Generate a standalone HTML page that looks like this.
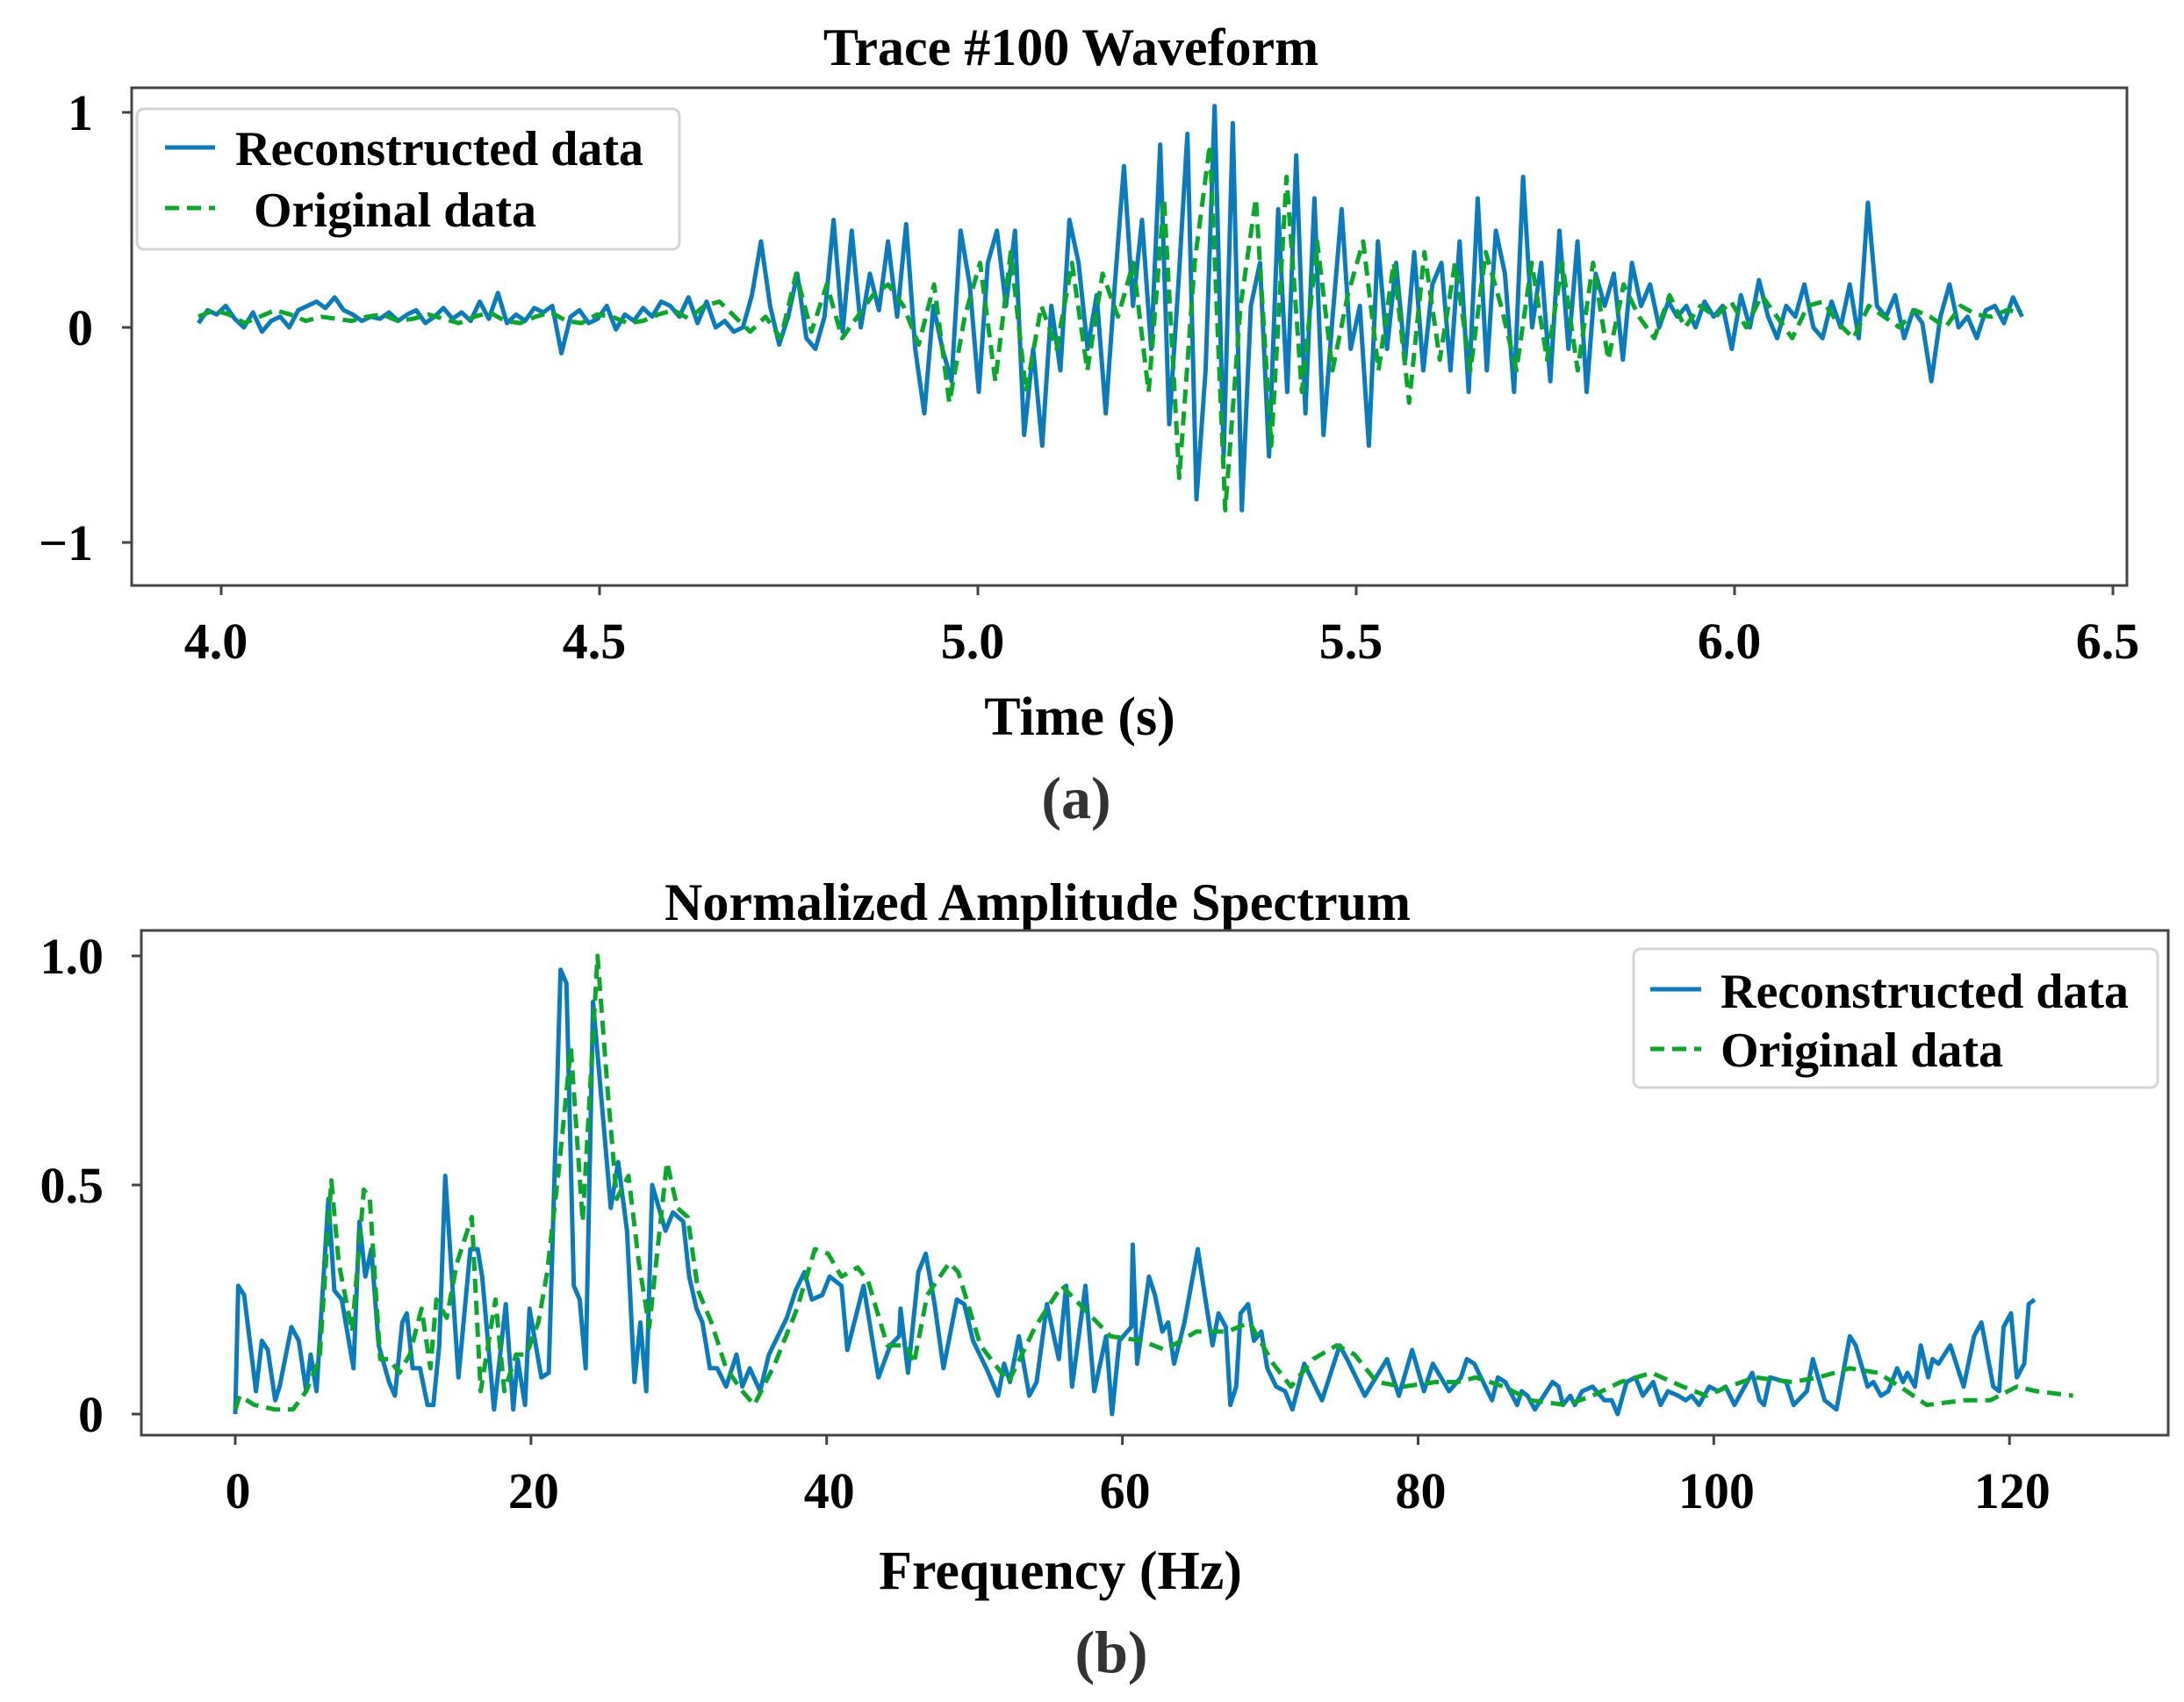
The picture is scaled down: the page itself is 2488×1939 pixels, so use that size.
<!DOCTYPE html>
<html><head><meta charset="utf-8">
<style>
html,body{margin:0;padding:0;background:#fff;}
svg{display:block;font-family:"Liberation Serif",serif;font-weight:bold;}
</style></head>
<body>
<svg id="fig" width="2488" height="1939" viewBox="0 0 2488 1939" xmlns="http://www.w3.org/2000/svg">
<rect width="2488" height="1939" fill="#fff"/>
<g id="top">
  <text x="1220" y="74" font-size="60" text-anchor="middle">Trace #100 Waveform</text>
  <g id="topSeries"></g>
  <rect x="150" y="100" width="2273" height="567" fill="none" stroke="#444" stroke-width="3"/>
  <g id="topTicks"></g>
  <text x="1230" y="837" font-size="62" text-anchor="middle">Time (s)</text>
  <text x="1226" y="932" font-size="68" text-anchor="middle" fill="#333">(a)</text>
  <g>
    <rect x="156" y="124" width="618" height="160" rx="8" fill="#fff" fill-opacity="0.85" stroke="#d4d4d4" stroke-width="3"/>
    <line x1="188" y1="168" x2="245" y2="168" stroke="#0a7bbd" stroke-width="5"/>
    <text x="268" y="188" font-size="56">Reconstructed data</text>
    <line x1="188" y1="237" x2="245" y2="237" stroke="#0aa82a" stroke-width="5" stroke-dasharray="16,9"/>
    <text x="289" y="258" font-size="56">Original data</text>
  </g>
</g>
<g id="bot">
  <text x="1182" y="1048" font-size="60" text-anchor="middle">Normalized Amplitude Spectrum</text>
  <g id="botSeries"></g>
  <rect x="161" y="1060" width="2309" height="575" fill="none" stroke="#444" stroke-width="3"/>
  <g id="botTicks"></g>
  <text x="1208" y="1810" font-size="62" text-anchor="middle">Frequency (Hz)</text>
  <text x="1266" y="1905" font-size="68" text-anchor="middle" fill="#333">(b)</text>
  <g>
    <rect x="1861" y="1081" width="597" height="158" rx="8" fill="#fff" fill-opacity="0.85" stroke="#d4d4d4" stroke-width="3"/>
    <line x1="1880" y1="1127" x2="1938" y2="1127" stroke="#0a7bbd" stroke-width="5"/>
    <text x="1960" y="1148" font-size="56">Reconstructed data</text>
    <line x1="1880" y1="1195" x2="1938" y2="1195" stroke="#0aa82a" stroke-width="5" stroke-dasharray="16,9"/>
    <text x="1960" y="1215" font-size="56">Original data</text>
  </g>
</g>
</svg>
<script>
// ---- Waveform data ----
const waveT0 = 3.97, waveT1 = 6.38;
const waveRecon = [0.02,0.08,0.06,0.1,0.04,0.0,0.07,-0.02,0.03,0.05,0.0,0.08,0.1,0.12,0.09,0.14,0.08,0.06,0.03,0.05,0.04,0.07,0.03,0.06,0.08,0.02,0.05,0.09,0.04,0.07,0.03,0.12,0.04,0.16,0.02,0.06,0.03,0.09,0.07,0.1,-0.12,0.05,0.08,0.02,0.04,0.1,-0.01,0.06,0.03,0.09,0.05,0.12,0.1,0.05,0.14,0.02,0.12,0.0,0.03,-0.02,0.0,
0.15,0.4,0.1,-0.08,0.05,0.25,-0.05,-0.1,0.05,0.5,-0.02,0.45,0.0,0.25,0.08,0.4,0.05,0.48,-0.1,-0.4,0.1,
-0.1,-0.25,0.45,0.2,-0.3,0.3,0.45,0.1,0.45,-0.5,-0.1,-0.55,0.1,-0.2,0.5,0.3,-0.1,0.15,-0.4,0.2,0.75,
0.1,0.5,-0.1,0.85,-0.45,0.2,0.9,-0.8,-0.2,1.03,-0.6,0.95,-0.85,0.1,0.3,-0.6,0.55,-0.3,0.8,-0.4,0.6,
-0.5,0.05,0.55,-0.1,0.1,-0.55,0.4,-0.1,0.3,-0.15,0.35,-0.2,0.2,0.3,-0.2,0.4,-0.3,0.6,-0.2,0.45,0.25,
-0.3,0.7,0.0,0.3,-0.25,0.45,-0.1,0.4,-0.3,0.25,0.1,0.25,-0.15,0.3,0.1,0.2,0.0,0.12,0.05,0.1,0.0,
0.12,0.05,0.1,-0.1,0.15,0.0,0.22,0.05,-0.05,0.1,0.05,0.2,0.0,-0.05,0.12,0.0,0.2,-0.05,0.58,0.1,0.05,0.15,-0.05,0.08,0.02,-0.25,0.05,0.2,0.0,0.05,-0.05,0.08,0.1,0.02,0.14,0.05];
const waveOrig = [0.05,0.08,0.06,0.02,0.05,0.08,0.06,0.03,0.05,0.04,0.03,0.05,0.06,0.03,0.04,0.06,0.04,0.02,0.05,0.07,0.03,0.02,0.05,0.07,0.03,0.02,0.06,0.05,0.02,0.03,0.06,0.08,0.04,0.1,0.12,0.05,-0.02,
0.05,-0.05,0.25,-0.02,0.2,-0.05,0.05,0.15,0.2,0.1,-0.08,0.2,-0.35,0.05,0.3,
-0.25,0.35,-0.3,0.1,-0.1,0.3,-0.2,0.25,0.05,0.3,
-0.3,0.6,-0.7,0.3,0.85,-0.85,0.1,0.6,-0.55,0.7,-0.3,0.4,
-0.2,0.15,0.4,-0.2,0.3,-0.35,0.35,-0.15,0.3,-0.2,0.35,0.1,
-0.2,0.3,-0.15,0.3,-0.2,0.3,-0.15,0.2,0.05,-0.05,0.15,0.0,0.1,0.05,0.12,
0.0,0.15,0.05,-0.05,0.1,0.12,0.02,-0.05,0.1,0.05,0.0,0.08,0.05,0.0,0.1,0.06,0.05,0.08,0.07];
const waveXTicks = [4.0,4.5,5.0,5.5,6.0,6.5];
const waveXTickLabels = ["4.0","4.5","5.0","5.5","6.0","6.5"];
const waveYTicks = [1,0,-1];
const waveYTickLabels = ["1","0","\u22121"];

// ---- Spectrum data ----
const specReconF = [0,0.2,0.6,1.4,1.8,2.2,2.7,3.0,3.8,4.3,4.8,5.1,5.5,6.3,6.7,7.2,8.0,8.4,8.8,9.2,9.7,10.4,10.8,11.3,11.6,12.0,12.5,13.0,13.4,13.8,14.2,15.1,15.9,16.4,16.7,17.5,18.3,18.8,19.1,19.6,19.9,20.7,21.2,22.0,22.4,22.9,23.3,23.7,24.2,25.4,25.9,26.5,27.0,27.4,27.8,28.2,29.1,29.6,30.3,30.7,31.2,31.6,32.1,32.6,33.2,33.9,
34.3,34.8,35.5,36.1,37.3,37.9,38.5,39.0,39.7,40.2,41.0,41.4,42.5,43.5,44.3,44.9,45.0,45.5,46.2,46.7,47.3,47.9,48.8,49.3,49.9,50.8,51.6,52.0,52.4,53.0,53.7,54.2,54.9,55.7,56.2,56.6,57.5,58.1,58.9,59.3,59.8,60.6,60.7,61.0,61.8,62.2,62.7,63.1,63.5,64.2,65.1,66.1,66.5,67.0,67.3,67.7,68.0,68.5,68.9,69.4,69.8,70.4,71.0,71.5,72.3,73.5,74.7,75.2,76.4,77.9,78.7,79.6,80.4,
81.0,82.1,82.9,83.3,83.8,85.0,85.4,85.9,86.7,87.0,87.4,87.9,89.1,89.5,89.8,90.3,90.6,91.1,91.8,92.6,93.1,93.5,94.1,94.7,95.2,95.9,96.4,96.9,97.6,98.1,98.5,99.0,99.7,100.3,100.8,101.4,102.6,103.1,103.4,103.8,104.9,105.4,106.3,106.7,107.5,108.3,109.2,109.6,110.4,110.8,111.3,111.8,112.4,112.8,113.1,113.6,114.0,114.5,114.8,115.2,116.0,116.9,117.6,118.1,118.9,119.3,119.6,120.1,120.5,121.0,121.3,121.7];
const specReconA = [0.0,0.28,0.26,0.05,0.16,0.14,0.03,0.06,0.19,0.16,0.05,0.13,0.05,0.47,0.27,0.25,0.1,0.42,0.3,0.36,0.15,0.07,0.04,0.2,0.22,0.1,0.1,0.02,0.02,0.15,0.52,0.08,0.36,0.36,0.3,0.01,0.24,0.01,0.12,0.02,0.23,0.08,0.09,0.97,0.94,0.28,0.25,0.1,0.9,0.45,0.55,0.4,0.07,0.2,0.05,0.5,0.4,0.44,0.42,0.3,0.23,0.2,0.1,0.1,0.06,0.13,
0.06,0.10,0.05,0.13,0.21,0.27,0.31,0.25,0.26,0.30,0.28,0.14,0.28,0.08,0.15,0.17,0.23,0.09,0.31,0.35,0.24,0.10,0.25,0.24,0.16,0.10,0.04,0.11,0.07,0.17,0.04,0.07,0.24,0.12,0.28,0.06,0.28,0.05,0.17,0.0,0.16,0.19,0.37,0.11,0.30,0.26,0.18,0.20,0.11,0.20,0.36,0.15,0.22,0.19,0.02,0.06,0.22,0.24,0.16,0.18,0.10,0.06,0.05,0.01,0.11,0.03,0.15,0.12,0.04,0.12,0.04,0.14,0.05,
0.11,0.05,0.08,0.12,0.11,0.03,0.08,0.07,0.02,0.05,0.04,0.01,0.07,0.06,0.02,0.04,0.02,0.05,0.06,0.03,0.03,0.0,0.07,0.08,0.04,0.07,0.02,0.05,0.04,0.03,0.04,0.02,0.06,0.05,0.06,0.02,0.09,0.03,0.02,0.08,0.07,0.02,0.05,0.12,0.03,0.01,0.17,0.15,0.06,0.07,0.04,0.05,0.10,0.07,0.09,0.06,0.15,0.08,0.12,0.11,0.15,0.06,0.17,0.20,0.06,0.05,0.19,0.22,0.08,0.11,0.24,0.25];
const specOrigF = [0,0.3,1.3,2.7,3.9,4.8,5.7,6.5,7.0,7.9,8.7,9.1,9.8,10.4,11.1,11.8,12.6,13.2,13.6,14.3,15.0,16.0,16.6,17.6,18.2,19.0,19.7,20.5,21.1,21.9,22.7,23.5,24.5,25.2,25.8,26.6,27.3,28.0,29.2,29.9,30.6,31.3,32.2,33.2,34.3,35.1,
36.5,38.0,39.2,40.1,41.0,42.1,42.8,44.1,45.4,45.9,46.8,48.3,48.9,50.4,52.3,54.1,55.9,57.7,59.2,61.3,62.9,65.0,67.1,68.6,70.2,71.4,72.9,74.5,75.7,77.2,79.0,81.2,
82.7,83.9,85.8,87.6,90.0,91.8,93.7,95.8,97.9,99.5,101.0,102.8,105.3,107.1,109.2,111.1,112.6,114.4,116.9,118.7,120.5,121.8,124.3];
const specOrigA = [0.01,0.04,0.02,0.01,0.01,0.05,0.12,0.51,0.33,0.18,0.49,0.47,0.12,0.12,0.09,0.13,0.23,0.10,0.25,0.21,0.33,0.43,0.05,0.25,0.05,0.13,0.13,0.2,0.31,0.54,0.8,0.42,1.0,0.7,0.47,0.52,0.33,0.19,0.55,0.45,0.43,0.27,0.2,0.1,0.05,0.02,
0.11,0.23,0.36,0.35,0.30,0.32,0.29,0.15,0.15,0.11,0.26,0.33,0.31,0.15,0.07,0.19,0.28,0.22,0.17,0.16,0.14,0.18,0.18,0.20,0.11,0.06,0.12,0.15,0.13,0.07,0.06,0.07,
0.07,0.08,0.06,0.03,0.02,0.04,0.07,0.09,0.06,0.04,0.06,0.08,0.07,0.08,0.10,0.09,0.06,0.02,0.03,0.03,0.06,0.05,0.04];
const specXTicks = [0,20,40,60,80,100,120];
const specXTickLabels = ["0","20","40","60","80","100","120"];
const specYTicks = [1.0,0.5,0];
const specYTickLabels = ["1.0","0.5","0"];

const NS = "http://www.w3.org/2000/svg";
function mk(tag, attrs, parent){const e=document.createElementNS(NS,tag);for(const k in attrs)e.setAttribute(k,attrs[k]);parent.appendChild(e);return e;}

// axis functions
const waveX = t => 252 + (t-4)*862;
const waveY = v => 373 - v*245;
const specX = f => 268 + f*16.8433;
const specY = a => 1611 - a*522;

function linePath(xs, ys){return xs.map((x,i)=>(i?'L':'M')+x.toFixed(1)+' '+ys[i].toFixed(1)).join(' ');}

const topS = document.getElementById('topSeries');
const botS = document.getElementById('botSeries');

const tOf = (arr,i) => waveT0 + i*(waveT1-waveT0)/(arr.length-1);
let p = mk('path',{d:linePath(waveRecon.map((v,i)=>waveX(tOf(waveRecon,i))), waveRecon.map(waveY)),fill:'none',stroke:'#0a7bbd','stroke-width':5,'stroke-linejoin':'round'},topS);


p = mk('path',{d:linePath(waveOrig.map((v,i)=>waveX(tOf(waveOrig,i))), waveOrig.map(waveY)),fill:'none',stroke:'#0aa82a','stroke-width':5,'stroke-dasharray':'16,9','stroke-linejoin':'round'},topS);



p = mk('path',{d:linePath(specReconF.map(specX), specReconA.map(specY)),fill:'none',stroke:'#0a7bbd','stroke-width':5,'stroke-linejoin':'round'},botS);


p = mk('path',{d:linePath(specOrigF.map(specX), specOrigA.map(specY)),fill:'none',stroke:'#0aa82a','stroke-width':5,'stroke-dasharray':'16,9','stroke-linejoin':'round'},botS);



const tt = document.getElementById('topTicks');
waveXTicks.forEach((t,i)=>{
  const x = waveX(t);
  const l = mk('line',{x1:x,y1:667,x2:x,y2:678,stroke:'#444','stroke-width':3},tt);
  
  
  const tx = mk('text',{x:x-6,y:750,'font-size':58,'text-anchor':'middle'},tt);
  tx.textContent = waveXTickLabels[i];
  
  
});
waveYTicks.forEach((v,i)=>{
  const y = waveY(v);
  const l = mk('line',{x1:139,y1:y,x2:150,y2:y,stroke:'#444','stroke-width':3},tt);
  
  
  const tx = mk('text',{x:106,y:y+20,'font-size':58,'text-anchor':'end'},tt);
  tx.textContent = waveYTickLabels[i];
  
  
});
const bt = document.getElementById('botTicks');
specXTicks.forEach((f,i)=>{
  const x = specX(f);
  const l = mk('line',{x1:x,y1:1635,x2:x,y2:1646,stroke:'#444','stroke-width':3},bt);
  
  
  const tx = mk('text',{x:x+3,y:1718,'font-size':58,'text-anchor':'middle'},bt);
  tx.textContent = specXTickLabels[i];
  
  
});
specYTicks.forEach((v,i)=>{
  const y = specY(v);
  const l = mk('line',{x1:150,y1:y,x2:161,y2:y,stroke:'#444','stroke-width':3},bt);
  
  
  const tx = mk('text',{x:118,y:y+20,'font-size':58,'text-anchor':'end'},bt);
  tx.textContent = specYTickLabels[i];
  
  
});
</script>
</body></html>
